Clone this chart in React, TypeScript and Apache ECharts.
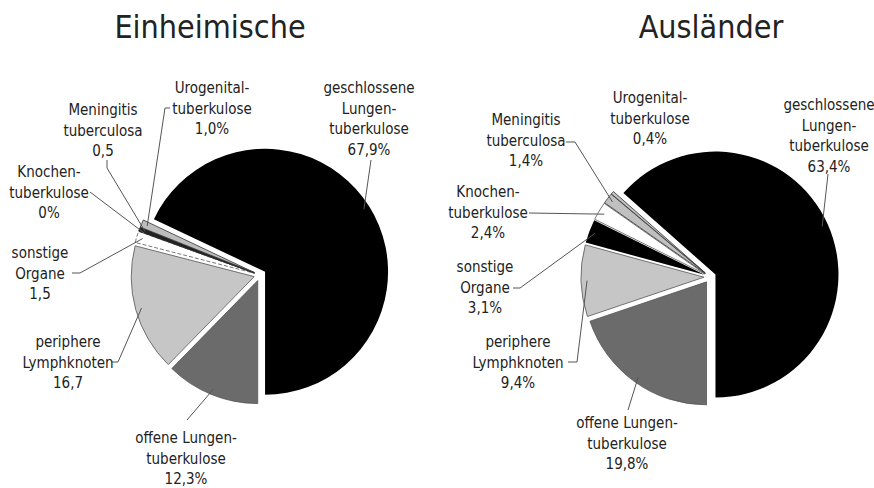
import React, { useEffect, useRef } from 'react';
import * as echarts from 'echarts';

// ---- data ----
const categories = [
  'offene Lungen-\ntuberkulose',
  'periphere\nLymphknoten',
  'sonstige\nOrgane',
  'Knochen-\ntuberkulose',
  'Meningitis\ntuberculosa',
  'Urogenital-\ntuberkulose',
  'geschlossene\nLungen-\ntuberkulose',
];
const titles = ['Einheimische', 'Ausländer'];
const einheimischeValues = [12.3, 16.7, 1.5, 0, 0.5, 1.0, 67.9];
const einheimischeValueLabels = ['12,3%', '16,7', '1,5', '0%', '0,5', '1,0%', '67,9%'];
const auslaenderValues = [19.8, 9.4, 3.1, 2.4, 1.4, 0.4, 63.4];
const auslaenderValueLabels = ['19,8%', '9,4%', '3,1%', '2,4%', '1,4%', '0,4%', '63,4%'];

// ---- styles / layout ----
const FONT = "'DejaVu Sans Condensed', 'DejaVu Sans', sans-serif";
const leftColors = [
  { color: '#6b6b6b', borderColor: '#555', borderType: 'solid', borderWidth: 0.8 },
  { color: '#c6c6c6', borderColor: '#555', borderType: 'solid', borderWidth: 0.8 },
  { color: '#ffffff', borderColor: '#777', borderType: 'dashed', borderWidth: 1 },
  { color: '#ffffff', borderColor: '#555', borderType: 'solid', borderWidth: 0.8 },
  { color: '#222222', borderColor: '#222', borderType: 'solid', borderWidth: 0.8 },
  { color: '#bdbdbd', borderColor: '#333', borderType: 'solid', borderWidth: 0.8 },
  { color: '#000000', borderColor: '#000', borderType: 'solid', borderWidth: 0 },
];
const rightColors = [
  { color: '#6b6b6b', borderColor: '#555', borderType: 'solid', borderWidth: 0.8 },
  { color: '#c6c6c6', borderColor: '#555', borderType: 'solid', borderWidth: 0.8 },
  { color: '#000000', borderColor: '#000', borderType: 'solid', borderWidth: 0 },
  { color: '#ffffff', borderColor: '#555', borderType: 'solid', borderWidth: 0.8 },
  { color: '#c0c0c0', borderColor: '#333', borderType: 'solid', borderWidth: 0.8 },
  { color: '#c0c0c0', borderColor: '#333', borderType: 'solid', borderWidth: 0.8 },
  { color: '#000000', borderColor: '#000', borderType: 'solid', borderWidth: 0 },
];
// label box (centre x, top y) and leader-line bend points (label side)
const leftLabelLayout = [
  { x: 186, y: 428, line: [[187, 420]] },
  { x: 68, y: 332, line: [[118, 362], [112, 362]] },
  { x: 40, y: 243, line: [[80, 273], [72, 273]] },
  { x: 49, y: 162, line: [[90, 192]] },
  { x: 103, y: 100, line: [[107, 168], [107, 160]] },
  { x: 212, y: 78, line: [[165, 108], [170, 108]] },
  { x: 369, y: 78, line: [[371, 160]] },
];
const rightLabelLayout = [
  { x: 627, y: 413, line: [[628, 410]] },
  { x: 518, y: 332, line: [[577, 362], [568, 362]] },
  { x: 485, y: 257, line: [[520, 288], [513, 288]] },
  { x: 488, y: 182, line: [[529, 213]] },
  { x: 526, y: 110, line: [[575, 142], [566, 142]] },
  { x: 650, y: 88, line: null },
  { x: 829, y: 95, line: [[828, 174]] },
];

const RADIUS = 123;

function slicesSeries(values: number[], colors: any[], center: number[]) {
  return {
    type: 'pie',
    center,
    radius: RADIUS,
    startAngle: 270,
    clockwise: true,
    selectedMode: 'multiple',
    selectedOffset: 6,
    silent: true,
    emphasis: { disabled: true },
    label: { show: false },
    labelLine: { show: false },
    data: values.map((v, i) => {
      const st = {
        color: colors[i].color,
        borderColor: colors[i].borderColor,
        borderType: colors[i].borderType,
        borderWidth: colors[i].borderWidth,
      };
      return {
        name: categories[i],
        value: v,
        selected: true,
        itemStyle: st,
        select: { itemStyle: st, label: { show: false }, labelLine: { show: false } },
      };
    }),
  };
}

function labelSeries(values: number[], valueLabels: string[], layout: any[], center: number[]) {
  return {
    type: 'pie',
    center,
    radius: RADIUS,
    startAngle: 270,
    clockwise: true,
    avoidLabelOverlap: false,
    silent: true,
    z: 3,
    emphasis: { disabled: true },
    itemStyle: { color: 'rgba(0,0,0,0)', borderWidth: 0 },
    data: values.map((v, i) => ({
      name: categories[i],
      value: v,
      labelLine: { show: !!layout[i].line },
    })),
    label: {
      show: true,
      formatter: (p: any) => p.name + '\n' + valueLabels[p.dataIndex],
      fontFamily: FONT,
      fontSize: 15,
      lineHeight: 20.5,
      color: '#222',
      align: 'center',
    },
    labelLine: {
      show: true,
      lineStyle: { color: '#555', width: 1 },
    },
    labelLayout: (p: any) => {
      const L = layout[p.dataIndex];
      const res: any = { x: L.x, y: L.y, align: 'center', verticalAlign: 'top' };
      if (L.line && p.labelLinePoints) {
        res.labelLinePoints = [p.labelLinePoints[0], ...L.line];
      }
      return res;
    },
  };
}

export default function App() {
  const ref = useRef<HTMLDivElement>(null);
  useEffect(() => {
    if (!ref.current) return;
    const chart = echarts.init(ref.current, null, { renderer: 'svg' });
    chart.setOption({
      animation: false,
      backgroundColor: '#ffffff',
      graphic: [
        {
          type: 'text',
          x: 210,
          y: 27,
          style: { text: titles[0], align: 'center', verticalAlign: 'middle', font: `32px ${FONT}`, fill: '#222' },
        },
        {
          type: 'text',
          x: 711,
          y: 27,
          style: { text: titles[1], align: 'center', verticalAlign: 'middle', font: `32px ${FONT}`, fill: '#222' },
        },
      ],
      series: [
        slicesSeries(einheimischeValues, leftColors, [260, 275]),
        labelSeries(einheimischeValues, einheimischeValueLabels, leftLabelLayout, [260, 275]),
        slicesSeries(auslaenderValues, rightColors, [710, 277]),
        labelSeries(auslaenderValues, auslaenderValueLabels, rightLabelLayout, [710, 277]),
      ],
    });
    return () => chart.dispose();
  }, []);
  return (
    <div
      ref={ref}
      style={{ position: 'absolute', left: 0, top: 0, width: 874, height: 488 }}
    />
  );
}
